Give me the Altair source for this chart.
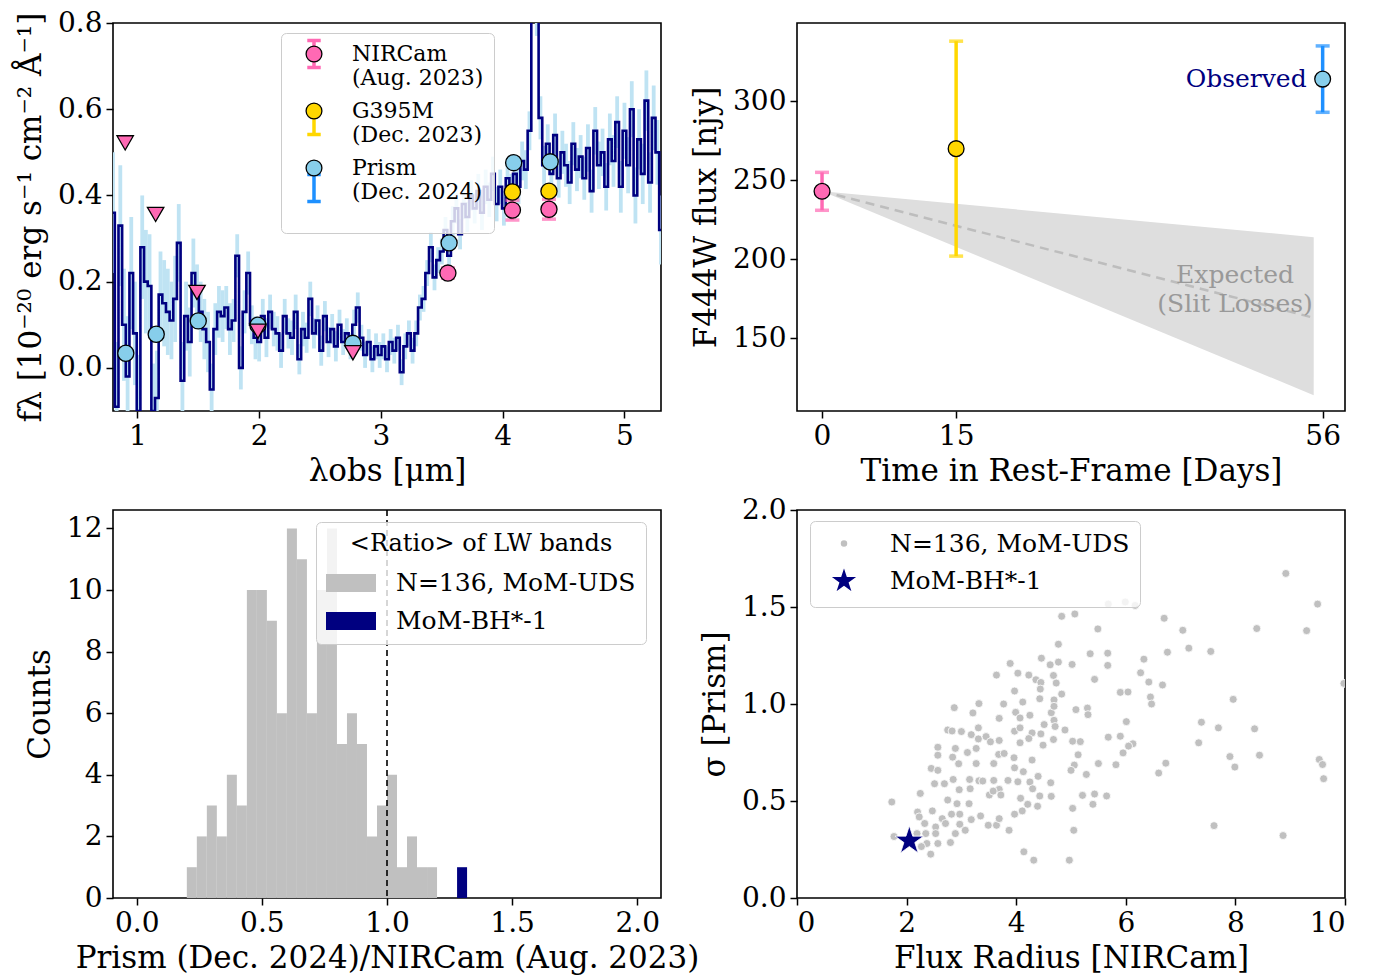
import altair as alt
import pandas as pd

FONT = "DejaVu Serif"
NAVY = "#000080"
PINK = "#ff69b4"
GOLD = "#ffd700"
SKY = "#87ceeb"
DODGER = "#1e90ff"
SILVER = "#c0c0c0"
STAR = ("M0,-1L0.225,-0.309L0.951,-0.309L0.363,0.118L0.588,0.809L0,0.382"
        "L-0.588,0.809L-0.363,0.118L-0.951,-0.309L-0.225,-0.309Z")
IBEAM = "M-0.85,-1.7H0.85M0,-1.7V1.7M-0.85,1.7H0.85"
RECT = "M-1,-0.36H1V0.36H-1Z"

# ---------------- Panel A: spectrum ----------------
wave = [0.80, 0.83, 0.86, 0.89, 0.92, 0.95, 0.98, 1.01, 1.04, 1.07,
        1.10, 1.13, 1.16, 1.19, 1.22, 1.25, 1.28, 1.31, 1.34, 1.37,
        1.40, 1.43, 1.46, 1.49, 1.52, 1.55, 1.58, 1.61, 1.64, 1.67,
        1.70, 1.73, 1.76, 1.79, 1.82, 1.85, 1.88, 1.91, 1.94, 1.97,
        2.00, 2.03, 2.06, 2.09, 2.12, 2.15, 2.18, 2.21, 2.24, 2.27,
        2.30, 2.33, 2.36, 2.39, 2.42, 2.45, 2.48, 2.51, 2.54, 2.57,
        2.60, 2.63, 2.66, 2.69, 2.72, 2.75, 2.78, 2.81, 2.84, 2.87,
        2.90, 2.93, 2.96, 2.99, 3.02, 3.05, 3.08, 3.11, 3.14, 3.17,
        3.20, 3.23, 3.26, 3.29, 3.32, 3.35, 3.38, 3.41, 3.44, 3.47,
        3.50, 3.53, 3.56, 3.59, 3.62, 3.65, 3.68, 3.71, 3.74, 3.77,
        3.80, 3.83, 3.86, 3.89, 3.92, 3.95, 3.98, 4.01, 4.04, 4.07,
        4.10, 4.13, 4.16, 4.19, 4.22, 4.25, 4.28, 4.31, 4.34, 4.37,
        4.40, 4.43, 4.46, 4.49, 4.52, 4.55, 4.58, 4.61, 4.64, 4.67,
        4.70, 4.73, 4.76, 4.79, 4.82, 4.85, 4.88, 4.91, 4.94, 4.97,
        5.00, 5.03, 5.06, 5.09, 5.12, 5.15, 5.18, 5.21, 5.24, 5.27, 5.30]
flux = [0.36, -0.09, 0.33, 0.10, -0.02, 0.22, 0.08, -0.10, 0.28, 0.20,
        0.19, -0.10, -0.07, 0.17, 0.15, 0.13, 0.11, 0.16, 0.29, -0.03,
        0.12, 0.06, 0.22, 0.17, 0.13, 0.09, 0.06, -0.05, 0.09, 0.13,
        0.12, 0.14, 0.09, 0.11, 0.26, 0.00, 0.13, 0.22, 0.10, 0.07,
        0.06, 0.12, 0.07, 0.13, 0.09, 0.08, 0.04, 0.12, 0.08, 0.07,
        0.13, 0.02, 0.09, 0.07, 0.16, 0.08, 0.11, 0.04, 0.12, 0.06,
        0.09, 0.05, 0.10, 0.06, 0.08, 0.05, 0.10, 0.14, 0.07, 0.03,
        0.06, 0.02, 0.05, 0.03, 0.05, 0.02, 0.06, 0.04, 0.07, -0.01,
        0.05, 0.08, 0.04, 0.08, 0.14, 0.16, 0.22, 0.28, 0.21, 0.25,
        0.27, 0.32, 0.26, 0.34, 0.37, 0.31, 0.38, 0.35, 0.40, 0.37,
        0.41, 0.36, 0.42, 0.39, 0.45, 0.38, 0.42, 0.37, 0.44, 0.41,
        0.45, 0.42, 0.48, 0.46, 0.55, 0.95, 0.82, 0.58, 0.47, 0.52,
        0.45, 0.54, 0.44, 0.50, 0.47, 0.43, 0.52, 0.46, 0.49, 0.44,
        0.51, 0.41, 0.55, 0.47, 0.50, 0.42, 0.53, 0.48, 0.57, 0.42,
        0.55, 0.47, 0.60, 0.40, 0.53, 0.45, 0.62, 0.43, 0.58, 0.50, 0.32]
flux_err = [0.14, 0.15, 0.14, 0.13, 0.14, 0.13, 0.12, 0.13, 0.12, 0.12,
            0.12, 0.11, 0.11, 0.10, 0.10, 0.10, 0.09, 0.10, 0.09, 0.09,
            0.08, 0.08, 0.08, 0.07, 0.07, 0.07, 0.07, 0.06, 0.06, 0.06,
            0.06, 0.05, 0.06, 0.05, 0.05, 0.05, 0.05, 0.05, 0.045, 0.05,
            0.045, 0.04, 0.045, 0.04, 0.04, 0.04, 0.04, 0.04, 0.035, 0.04,
            0.04, 0.035, 0.04, 0.035, 0.04, 0.035, 0.035, 0.035, 0.035, 0.035,
            0.035, 0.035, 0.035, 0.03, 0.035, 0.03, 0.035, 0.035, 0.03, 0.03,
            0.03, 0.03, 0.03, 0.03, 0.03, 0.03, 0.03, 0.03, 0.03, 0.03,
            0.03, 0.03, 0.03, 0.03, 0.03, 0.03, 0.03, 0.035, 0.03, 0.03,
            0.03, 0.03, 0.03, 0.035, 0.035, 0.035, 0.035, 0.035, 0.035, 0.035,
            0.04, 0.04, 0.04, 0.04, 0.04, 0.04, 0.04, 0.04, 0.04, 0.04,
            0.04, 0.04, 0.045, 0.045, 0.045, 0.05, 0.05, 0.05, 0.045, 0.045,
            0.045, 0.05, 0.045, 0.05, 0.05, 0.05, 0.05, 0.05, 0.05, 0.05,
            0.055, 0.05, 0.055, 0.055, 0.055, 0.055, 0.06, 0.06, 0.06, 0.06,
            0.065, 0.065, 0.065, 0.065, 0.07, 0.07, 0.07, 0.07, 0.075, 0.075, 0.08]

INST = ["NIRCam|(Aug. 2023)", "G395M|(Dec. 2023)", "Prism|(Dec. 2024)"]
INST_FILL = [PINK, GOLD, SKY]
INST_ERR = [PINK, GOLD, DODGER]

phot_inst = [INST[2]] * 8 + [INST[0]] * 3 + [INST[1]] * 2
phot_wave = [0.905, 1.155, 1.50, 1.99, 2.77, 3.56, 4.09, 4.39, 3.55, 4.08, 4.38, 4.08, 4.38]
phot_flux = [0.034, 0.078, 0.109, 0.099, 0.057, 0.290, 0.476, 0.478, 0.220, 0.366, 0.368, 0.408, 0.410]
phot_err = [0.005, 0.005, 0.005, 0.005, 0.005, 0.005, 0.005, 0.005, 0.012, 0.023, 0.023, 0.005, 0.005]

ul_wave = [0.90, 1.15, 1.49, 1.99, 2.77]
ul_flux = [0.522, 0.356, 0.175, 0.085, 0.035]

# ---------------- Panel B ----------------
lc_day = [0, 15, 56]
lc_flux = [243, 270, 314]
lc_lo = [231, 202, 293]
lc_hi = [255, 338, 335]
exp_day = [0, 55]
exp_lo = [243, 114]
exp_hi = [243, 214]
exp_mid = [243, 163]

# ---------------- Panel C ----------------
hist_lo = [0.20, 0.24, 0.28, 0.32, 0.36, 0.40, 0.44, 0.48, 0.52, 0.56,
           0.60, 0.64, 0.68, 0.72, 0.76, 0.80, 0.84, 0.88, 0.92, 0.96,
           1.00, 1.04, 1.08, 1.12, 1.16]
hist_n = [1, 2, 3, 2, 4, 3, 10, 10, 9, 6,
          12, 11, 6, 10, 12, 5, 6, 5, 2, 3,
          4, 1, 2, 1, 1]
bh_lo = [1.28]
bh_n = [1]
BIN_W = 0.04

# ---------------- Panel D ----------------
rad = [8.92, 9.50, 9.30, 8.39, 9.98, 7.96, 5.68, 5.99, 6.17, 4.83,
       5.07, 6.70, 7.04, 5.49, 4.77, 7.15, 7.55, 6.76, 5.35, 5.67,
       6.33, 4.46, 4.62, 4.77, 5.02, 5.67, 3.89, 3.64, 4.03, 4.23,
       4.36, 4.45, 4.68, 4.73, 6.27, 6.42, 6.67, 5.43, 3.97, 4.44,
       4.83, 5.90, 6.04, 6.45, 6.47, 4.43, 4.69, 3.77, 4.12, 3.32,
       2.87, 3.21, 3.69, 3.99, 4.25, 4.07, 4.64, 4.69, 5.09, 5.30,
       5.31, 6.01, 4.69, 2.75, 2.83, 3.00, 3.31, 3.18, 3.31, 3.45,
       3.53, 3.69, 3.97, 4.07, 4.29, 4.51, 4.45, 4.71, 4.89, 4.68,
       4.23, 4.07, 4.49, 5.03, 5.17, 5.68, 5.90, 6.13, 6.05, 5.95,
       7.38, 7.69, 8.35, 7.33, 7.90, 7.99, 8.44, 9.53, 9.59, 9.61,
       6.73, 6.60, 5.50, 5.82, 5.13, 5.06, 5.00, 5.28, 4.63, 4.64,
       5.21, 5.43, 5.65, 5.40, 5.03, 5.05, 7.61, 8.87, 4.14, 4.32,
       4.97, 2.57, 2.57, 2.45, 2.57, 2.51, 2.69, 2.85, 2.95, 2.84,
       2.89, 3.11, 3.27, 3.27, 2.96, 3.15, 3.16, 3.32, 3.39, 3.59,
       3.59, 3.68, 3.78, 3.96, 3.97, 4.13, 4.29, 3.85, 4.03, 4.25,
       4.40, 4.30, 4.43, 4.08, 4.11, 3.97, 4.21, 4.39, 3.69, 3.51,
       3.72, 3.58, 2.25, 1.73, 2.75, 2.92, 3.14, 2.97, 2.82, 2.65,
       2.47, 2.20, 2.23, 2.33, 2.53, 2.71, 2.97, 3.18, 3.35, 3.07,
       2.89, 2.53, 2.35, 2.19, 1.77, 2.37, 2.57, 2.80, 2.27, 2.44,
       3.49, 3.64, 3.69, 3.87]
sig = [1.673, 1.515, 1.378, 1.389, 1.106, 1.024, 1.515, 1.526, 1.508, 1.452,
       1.464, 1.442, 1.380, 1.387, 1.308, 1.288, 1.271, 1.267, 1.259, 1.262,
       1.231, 1.236, 1.202, 1.216, 1.204, 1.199, 1.209, 1.149, 1.159, 1.149,
       1.125, 1.111, 1.147, 1.108, 1.161, 1.113, 1.098, 1.127, 1.067, 1.077,
       1.051, 1.060, 1.062, 1.036, 1.000, 1.027, 1.021, 1.000, 1.010, 1.002,
       0.981, 0.954, 0.926, 0.957, 0.942, 0.928, 0.955, 0.988, 0.971, 0.979,
       0.945, 0.909, 0.916, 0.866, 0.861, 0.858, 0.877, 0.842, 0.820, 0.832,
       0.805, 0.812, 0.860, 0.877, 0.851, 0.894, 0.846, 0.884, 0.866, 0.817,
       0.822, 0.800, 0.788, 0.808, 0.806, 0.829, 0.834, 0.795, 0.783, 0.748,
       0.906, 0.877, 0.872, 0.800, 0.729, 0.675, 0.736, 0.714, 0.688, 0.615,
       0.695, 0.644, 0.693, 0.687, 0.738, 0.685, 0.658, 0.637, 0.594, 0.524,
       0.529, 0.536, 0.526, 0.483, 0.462, 0.349, 0.373, 0.322, 0.238, 0.195,
       0.195, 0.777, 0.736, 0.668, 0.658, 0.589, 0.589, 0.611, 0.692, 0.726,
       0.771, 0.750, 0.771, 0.693, 0.558, 0.611, 0.563, 0.604, 0.603, 0.606,
       0.693, 0.740, 0.745, 0.723, 0.671, 0.651, 0.711, 0.606, 0.599, 0.598,
       0.627, 0.563, 0.526, 0.514, 0.449, 0.432, 0.483, 0.473, 0.560, 0.531,
       0.531, 0.551, 0.539, 0.495, 0.505, 0.486, 0.486, 0.432, 0.432, 0.409,
       0.449, 0.443, 0.418, 0.384, 0.366, 0.384, 0.380, 0.404, 0.423, 0.349,
       0.332, 0.332, 0.332, 0.332, 0.317, 0.281, 0.281, 0.286, 0.265, 0.226,
       0.375, 0.375, 0.409, 0.349]
bh_rad = [2.05]
bh_sig = [0.295]
LAB_POP = "N=136, MoM-UDS"
LAB_BH = "MoM-BH*-1"

W, H = 548, 388
LEG_FILL = "rgba(255,255,255,0.8)"
LEG_STROKE = "#cccccc"

# ======================= Panel A =======================
spec = pd.DataFrame({"wave": wave, "flux": flux, "err": flux_err})
spec["lo"] = spec["flux"] - spec["err"]
spec["hi"] = spec["flux"] + spec["err"]

xsA = alt.Scale(domain=[0.8, 5.3], nice=False, zero=False)
ysA = alt.Scale(domain=[-0.1, 0.8], nice=False, zero=False)
axA_x = alt.Axis(values=[1, 2, 3, 4, 5], format="d", title="λobs [μm]")
axA_y = alt.Axis(values=[0, 0.2, 0.4, 0.6, 0.8], format=".1f",
                 title="fλ [10⁻²⁰ erg s⁻¹ cm⁻² Å⁻¹]")


def XA(f):
    return alt.X(f, type="quantitative", scale=xsA, axis=axA_x)


def YA(f):
    return alt.Y(f, type="quantitative", scale=ysA, axis=axA_y)


a_band = alt.Chart(spec).mark_rule(color="#bfe3f3", strokeWidth=3.8, clip=True).encode(
    x=XA("wave"), y=YA("lo"), y2="hi")
a_line = alt.Chart(spec).mark_line(interpolate="step", color=NAVY, strokeWidth=2.6, clip=True).encode(
    x=XA("wave"), y=YA("flux"))

phot = pd.DataFrame({"wave": phot_wave, "flux": phot_flux, "err": phot_err, "inst": phot_inst})
phot["lo"] = phot["flux"] - phot["err"]
phot["hi"] = phot["flux"] + phot["err"]
phot["inst2"] = phot["inst"]

LEGX, LEGY = 168, 10
LEG_COMMON = dict(orient="none", legendX=LEGX, legendY=LEGY, title=None,
                  symbolSize=250, labelExpr="split(datum.label, '|')",
                  labelFont=FONT, labelFontSize=22, labelLimit=400,
                  labelOffset=27, symbolOffset=12, rowPadding=11, padding=10)
a_err = alt.Chart(phot).mark_rule(strokeWidth=3.5).encode(
    x=XA("wave"), y=YA("lo"), y2="hi",
    stroke=alt.Stroke("inst2:N", scale=alt.Scale(domain=INST, range=INST_ERR),
                      legend=alt.Legend(symbolType=IBEAM, symbolStrokeWidth=3.5,
                                        symbolFillColor="transparent", labelOpacity=0,
                                        fillColor=LEG_FILL, strokeColor=LEG_STROKE,
                                        cornerRadius=5, zindex=0, **LEG_COMMON)))
a_cap = alt.Chart(phot).transform_fold(["lo", "hi"], as_=["end", "yv"]).mark_tick(
    orient="horizontal", thickness=3.5, size=14).encode(
    x=XA("wave"), y=YA("yv"),
    color=alt.Color("inst2:N", scale=alt.Scale(domain=INST, range=INST_ERR), legend=None))
a_pts = alt.Chart(phot).mark_circle(size=260, stroke="black", strokeWidth=1.3, opacity=1).encode(
    x=XA("wave"), y=YA("flux"),
    fill=alt.Fill("inst:N", scale=alt.Scale(domain=INST, range=INST_FILL),
                  legend=alt.Legend(symbolType="circle", symbolStrokeColor="black",
                                    symbolStrokeWidth=1.3, labelColor="black",
                                    zindex=1, **LEG_COMMON)))
ul = pd.DataFrame({"wave": ul_wave, "flux": ul_flux})
a_ul = alt.Chart(ul).mark_point(shape="triangle-down", filled=True, size=270, fill=PINK,
                                stroke="black", strokeWidth=1.3, opacity=1).encode(
    x=XA("wave"), y=YA("flux"))

panelA = alt.layer(a_band, a_line, a_err, a_cap, a_pts, a_ul).resolve_scale(
    fill="independent", stroke="independent", color="independent").properties(width=W, height=H)

# ======================= Panel B =======================
xsB = alt.Scale(domain=[-2.8, 58.5], nice=False, zero=False)
ysB = alt.Scale(domain=[104, 349.5], nice=False, zero=False)
axB_x = alt.Axis(values=[0, 15, 56], title="Time in Rest-Frame [Days]")
axB_y = alt.Axis(values=[150, 200, 250, 300], title="F444W flux [njy]")


def XB(f):
    return alt.X(f, type="quantitative", scale=xsB, axis=axB_x)


def YB(f):
    return alt.Y(f, type="quantitative", scale=ysB, axis=axB_y)


expd = pd.DataFrame({"day": exp_day, "lo": exp_lo, "hi": exp_hi, "mid": exp_mid})
b_band = alt.Chart(expd).mark_area(color="#dedede", opacity=1).encode(x=XB("day"), y=YB("lo"), y2="hi")
b_mid = alt.Chart(expd).mark_line(color="#bdbdbd", strokeWidth=2.5, strokeDash=[9, 6]).encode(
    x=XB("day"), y=YB("mid"))
lc = pd.DataFrame({"day": lc_day, "flux": lc_flux, "lo": lc_lo, "hi": lc_hi, "inst": INST})
errscale = alt.Scale(domain=INST, range=INST_ERR)
b_err = alt.Chart(lc).mark_rule(strokeWidth=3.5).encode(
    x=XB("day"), y=YB("lo"), y2="hi", color=alt.Color("inst:N", scale=errscale, legend=None))
b_cap = alt.Chart(lc).transform_fold(["lo", "hi"], as_=["end", "yv"]).mark_tick(
    orient="horizontal", thickness=3.5, size=14).encode(
    x=XB("day"), y=YB("yv"), color=alt.Color("inst:N", scale=errscale, legend=None))
b_pts = alt.Chart(lc).mark_circle(size=250, stroke="black", strokeWidth=1.3, opacity=1).encode(
    x=XB("day"), y=YB("flux"),
    fill=alt.Fill("inst:N", scale=alt.Scale(domain=INST, range=INST_FILL), legend=None))
obs = pd.DataFrame({"day": [56], "flux": [314], "t": ["Observed"]})
b_obs = alt.Chart(obs).mark_text(align="right", baseline="middle", dx=-16, font=FONT,
                                 fontSize=25, color=NAVY).encode(x=XB("day"), y=YB("flux"), text="t:N")
expt = pd.DataFrame({"day": [46.2, 46.2], "flux": [190, 172], "t": ["Expected", "(Slit Losses)"]})
b_exp = alt.Chart(expt).mark_text(align="center", baseline="middle", font=FONT, fontSize=25,
                                  color="#999999").encode(x=XB("day"), y=YB("flux"), text="t:N")
panelB = alt.layer(b_band, b_mid, b_err, b_cap, b_pts, b_obs, b_exp).resolve_scale(
    fill="independent", color="independent").properties(width=W, height=H)

# ======================= Panel C =======================
hist = pd.DataFrame({"lo": hist_lo + bh_lo, "n": hist_n + bh_n,
                     "lab": [LAB_POP] * len(hist_lo) + [LAB_BH] * len(bh_lo)})
hist["hi"] = hist["lo"] + BIN_W
xsC = alt.Scale(domain=[-0.095, 2.095], nice=False, zero=False)
ysC = alt.Scale(domain=[0, 12.6], nice=False)
c_bars = alt.Chart(hist).mark_rect(opacity=1).encode(
    x=alt.X("lo:Q", scale=xsC, axis=alt.Axis(values=[0, 0.5, 1, 1.5, 2], format=".1f",
                                              title="Prism (Dec. 2024)/NIRCam (Aug. 2023)")),
    x2="hi",
    y=alt.Y("n:Q", scale=ysC, axis=alt.Axis(values=[0, 2, 4, 6, 8, 10, 12], title="Counts")),
    y2=alt.datum(0),
    fill=alt.Fill("lab:N", scale=alt.Scale(domain=[LAB_POP, LAB_BH], range=[SILVER, NAVY]),
                  legend=alt.Legend(orient="none", legendX=203, legendY=12,
                                    title="<Ratio> of LW bands", titleFont=FONT, titleFontSize=24,
                                    titleFontWeight="normal", titleAnchor="middle", titlePadding=2,
                                    titleLimit=400, titleColor="black",
                                    symbolType=RECT, symbolSize=2500, symbolStrokeWidth=0,
                                    labelFont=FONT, labelFontSize=25,
                                    labelColor="black", labelLimit=400, labelOffset=20,
                                    rowPadding=0, padding=10, fillColor=LEG_FILL,
                                    strokeColor=LEG_STROKE, cornerRadius=5)))
vline = pd.DataFrame({"x": [1.0]})
c_rule = alt.Chart(vline).mark_rule(color="black", strokeWidth=1.6, strokeDash=[6, 4]).encode(
    x=alt.X("x:Q", scale=xsC))
panelC = alt.layer(c_bars, c_rule).properties(width=W, height=H)

# ======================= Panel D =======================
sc = pd.DataFrame({"r": rad + bh_rad, "s": sig + bh_sig,
                   "lab": [LAB_POP] * len(rad) + [LAB_BH] * len(bh_rad)})
labdom = [LAB_POP, LAB_BH]
legD = alt.Legend(orient="none", legendX=13, legendY=11, title=None,
                  labelFont=FONT, labelFontSize=25, labelColor="black", labelLimit=400,
                  labelOffset=30, rowPadding=6, padding=10, symbolOffset=8,
                  fillColor=LEG_FILL, strokeColor=LEG_STROKE, cornerRadius=5)
panelD = alt.Chart(sc).mark_point(filled=True, opacity=1, stroke="white", strokeWidth=0.8, clip=True).encode(
    x=alt.X("r:Q", scale=alt.Scale(domain=[0, 10], nice=False),
            axis=alt.Axis(values=[0, 2, 4, 6, 8, 10], title="Flux Radius [NIRCam]")),
    y=alt.Y("s:Q", scale=alt.Scale(domain=[0, 2], nice=False),
            axis=alt.Axis(values=[0, 0.5, 1, 1.5, 2], format=".1f", title="σ [Prism]")),
    fill=alt.Fill("lab:N", scale=alt.Scale(domain=labdom, range=[SILVER, NAVY]), legend=legD),
    shape=alt.Shape("lab:N", scale=alt.Scale(domain=labdom, range=["circle", STAR]), legend=legD),
    size=alt.Size("lab:N", scale=alt.Scale(domain=labdom, range=[64, 900]), legend=legD),
).properties(width=W, height=H)

chart = alt.concat(panelA, panelB, panelC, panelD, columns=2, spacing={"row": 8, "column": -11}).resolve_scale(
    fill="independent", color="independent", stroke="independent", shape="independent", size="independent"
).properties(
    padding={"left": 14, "top": 8, "right": 5, "bottom": 2}
).configure_view(stroke="black", strokeWidth=1.6).configure_axis(
    labelFont=FONT, titleFont=FONT, labelFontSize=28, titleFontSize=31, titleFontWeight="normal",
    labelColor="black", titleColor="black", tickColor="black", tickWidth=1.5, tickSize=7,
    labelPadding=4, titlePadding=10, domain=False, grid=False
).configure_axisX(titlePadding=6).configure_legend(labelFont=FONT, titleFont=FONT)

chart.save("out.html", embed_options={"renderer": "svg", "actions": False})
